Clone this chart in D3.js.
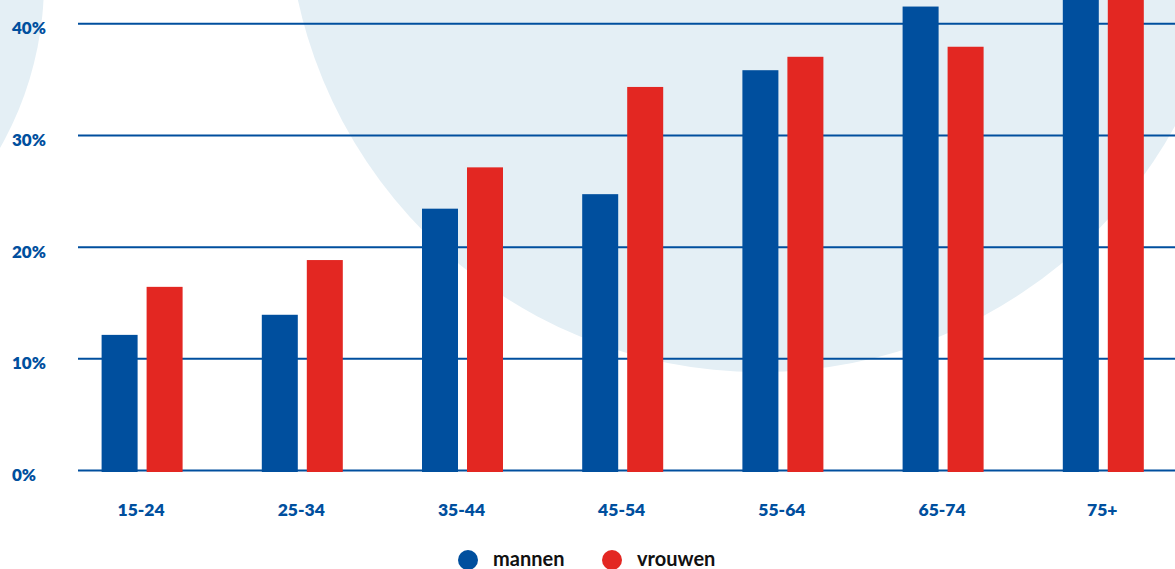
<!DOCTYPE html>
<html>
<head>
<meta charset="utf-8">
<script src="https://cdn.jsdelivr.net/npm/d3@7"></script>
<style>
  html, body { margin: 0; padding: 0; background: #fff; overflow: hidden; }
  text { font-family: Lato, "Open Sans", sans-serif; }
</style>
</head>
<body>
<div id="chart"></div>
<script>
// age groups and shares (%) per sex
const categories = ['15-24', '25-34', '35-44', '45-54', '55-64', '65-74', '75+'];
const sexes = ['mannen', 'vrouwen'];
const mannen = [12.1, 13.9, 23.4, 24.7, 35.8, 41.5, 46.0];
const vrouwen = [16.4, 18.8, 27.1, 34.3, 37.0, 37.9, 46.5];
const yTicks = [0, 10, 20, 30, 40];

const W = 1175, H = 569;
const blue = '#004f9e', red = '#e32722', bg = '#e4eff5';

const svg = d3.select('#chart').append('svg')
	.attr('width', W)
	.attr('height', H);

// decorative background circles
svg.append('circle').attr('cx', -291).attr('cy', -18).attr('r', 335).attr('fill', bg);
svg.append('circle').attr('cx', 760).attr('cy', -101).attr('r', 473).attr('fill', bg);

const scaleX = d3.scaleBand().domain(categories).range([62, 1183.4]);
const scaleSub = d3.scaleBand().domain(sexes).range([-40.5, 40.5]).paddingInner(0.2);
const scaleY = d3.scaleLinear().domain([0, 40]).range([470, 23.3]);

// grid
const axisY = d3.axisLeft(scaleY)
	.tickValues(yTicks)
	.tickSize(-(W - 78))
	.tickFormat(d => d + '%');

const gy = svg.append('g')
	.attr('transform', 'translate(78,0)')
	.call(axisY);
gy.select('.domain').remove();
gy.selectAll('.tick line')
	.attr('stroke', blue)
	.attr('stroke-width', 2);
gy.selectAll('.tick text')
	.attr('x', -66)
	.attr('dy', '0.62em')
	.attr('text-anchor', 'start')
	.attr('fill', blue)
	.style('font-size', '17px')
	.style('font-weight', 800);

// bars
const rows = categories.map((c, i) => ({cat: c, values: [
	{sex: 'mannen', v: mannen[i]},
	{sex: 'vrouwen', v: vrouwen[i]}
]}));

const groups = svg.append('g').selectAll('g')
	.data(rows)
	.join('g')
	.attr('transform', d => `translate(${scaleX(d.cat) + scaleX.bandwidth() / 2},0)`);

groups.selectAll('rect')
	.data(d => d.values)
	.join('rect')
	.attr('x', d => scaleSub(d.sex))
	.attr('width', scaleSub.bandwidth())
	.attr('y', d => scaleY(d.v))
	.attr('height', d => scaleY(0) - scaleY(d.v) + 2)
	.attr('fill', d => d.sex === 'mannen' ? blue : red);

// category labels
svg.append('g').selectAll('text')
	.data(categories)
	.join('text')
	.attr('x', d => scaleX(d) + scaleX.bandwidth() / 2 - 1)
	.attr('y', 516)
	.attr('text-anchor', 'middle')
	.attr('fill', blue)
	.style('font-size', '17.5px')
	.style('font-weight', 800)
	.text(d => d);

// legend
const legend = svg.append('g').selectAll('g')
	.data(sexes)
	.join('g')
	.attr('transform', (d, i) => `translate(${468 + i * 144},560)`);
legend.append('circle')
	.attr('r', 10)
	.attr('fill', d => d === 'mannen' ? blue : red);
legend.append('text')
	.attr('x', 25)
	.attr('y', 6)
	.attr('fill', '#111')
	.style('font-size', '20px')
	.style('font-weight', 700)
	.text(d => d);
</script>
</body>
</html>
